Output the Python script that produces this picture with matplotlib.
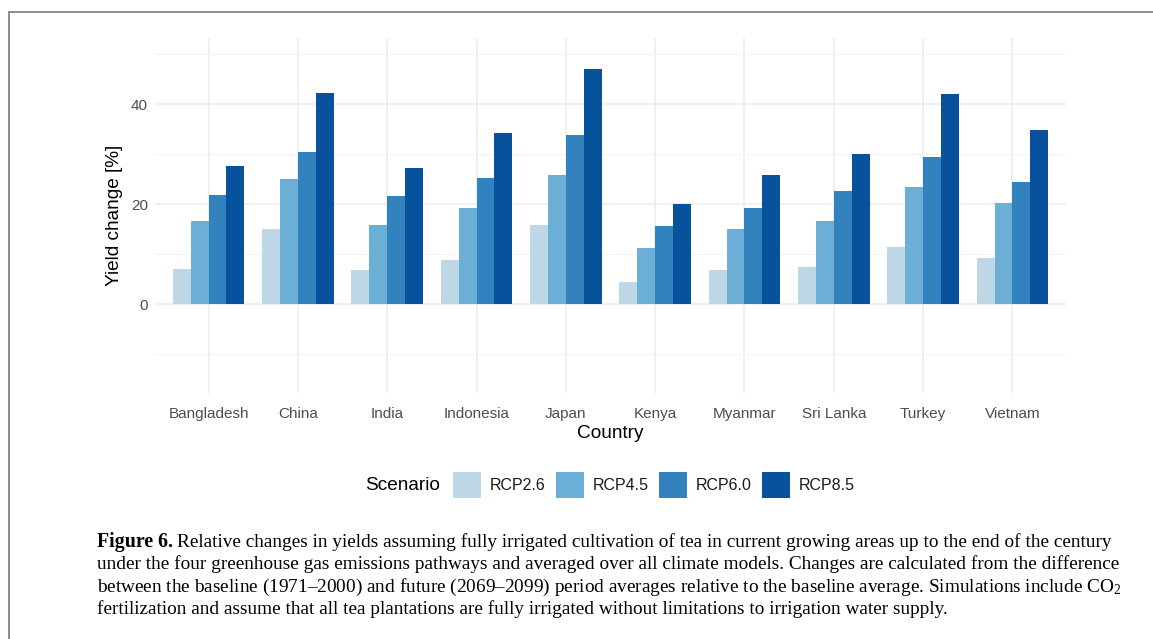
"""
Tea yield change under RCP scenarios (fully irrigated), bar chart with caption.
"""

import numpy as np
import matplotlib.pyplot as plt
from matplotlib.patches import Rectangle
from matplotlib.lines import Line2D


# ---- data ----
countries = ["Bangladesh", "China", "India", "Indonesia", "Japan",
             "Kenya", "Myanmar", "Sri Lanka", "Turkey", "Vietnam"]
scenarios = ["RCP2.6", "RCP4.5", "RCP6.0", "RCP8.5"]

rcp26 = [7.1, 15.0, 6.8, 8.8, 15.9, 4.5, 6.9, 7.4, 11.5, 9.3]
rcp45 = [16.7, 25.1, 15.9, 19.3, 25.9, 11.3, 15.0, 16.7, 23.5, 20.3]
rcp60 = [21.9, 30.5, 21.7, 25.3, 33.9, 15.6, 19.3, 22.7, 29.5, 24.5]
rcp85 = [27.6, 42.2, 27.3, 34.2, 47.1, 20.1, 25.8, 30.1, 42.0, 34.9]

colors = ["#BDD7E7", "#6BAED6", "#3182BD", "#08519C"]

caption_lines = [
    "Relative changes in yields assuming fully irrigated cultivation of tea in current growing areas up to the end of the century",
    "under the four greenhouse gas emissions pathways and averaged over all climate models. Changes are calculated from the difference",
    "between the baseline (1971\u20132000) and future (2069\u20132099) period averages relative to the baseline average. Simulations include CO$_2$",
    "fertilization and assume that all tea plantations are fully irrigated without limitations to irrigation water supply.",
]

W, H = 1153, 639


def fx(px):
    return px / W


def fy(py):
    return 1 - py / H


plt.rcParams["font.family"] = ["Liberation Sans", "DejaVu Sans"]
plt.rcParams["mathtext.fontset"] = "custom"
plt.rcParams["mathtext.rm"] = "Liberation Serif"
plt.rcParams["mathtext.it"] = "Liberation Serif:italic"
plt.rcParams["mathtext.default"] = "rm"

fig = plt.figure(figsize=(W / 100, H / 100), dpi=100)
ax = fig.add_axes([fx(155), fy(393), fx(1066) - fx(155), fy(38) - fy(393)])

x = np.arange(len(countries))
bw = 0.2
series = [rcp26, rcp45, rcp60, rcp85]
for i, vals in enumerate(series):
    ax.bar(x + (i - 1.5) * bw, vals, width=bw, color=colors[i],
           linewidth=0, zorder=3)

ax.set_xlim(-0.6, len(countries) - 0.4)
ax.set_ylim(-17.8, 53.2)
ax.set_yticks([0, 20, 40])
ax.set_yticks([-10, 10, 30, 50], minor=True)
ax.set_xticks(x)
ax.set_xticklabels(countries)

ax.grid(which="major", color="#EBEBEB", linewidth=1.1, zorder=0)
ax.grid(which="minor", axis="y", color="#F3F3F3", linewidth=0.8, zorder=0)
for s in ax.spines.values():
    s.set_visible(False)
ax.tick_params(which="both", length=0)
ax.tick_params(axis="both", labelsize=11, labelcolor="#4D4D4D")
ax.tick_params(axis="x", pad=10)
ax.tick_params(axis="y", pad=5)

ax.set_xlabel("Country", fontsize=13.7, labelpad=3)
ax.set_ylabel("Yield change [%]", fontsize=13.7, labelpad=6)

# legend, drawn by hand to match the ggplot bottom legend
fig.text(fx(365), fy(486), "Scenario", fontsize=13.7, va="center", ha="left")
key_x = [453, 556, 659, 762]
for i, name in enumerate(scenarios):
    fig.add_artist(Rectangle((fx(key_x[i]), fy(498)), fx(28), 26 / H,
                             transform=fig.transFigure, color=colors[i], lw=0))
    fig.text(fx(key_x[i] + 37), fy(486), name, fontsize=11.5,
             va="center", ha="left", color="#1A1A1A")

# caption
cap_y = [542, 564.5, 587, 609.5]
cap_size = 13.9
cap_font = ["Liberation Serif", "DejaVu Serif"]
for i, line in enumerate(caption_lines):
    if i == 0:
        t = fig.text(fx(97), fy(cap_y[i]), "Figure 6.", fontsize=cap_size + 0.4,
                     family=cap_font, weight="bold", va="center", ha="left")
        fig.canvas.draw()
        bb = t.get_window_extent()
        fig.text((bb.x1 + 4) / W, fy(cap_y[i]), line, fontsize=cap_size,
                 family=cap_font, va="center", ha="left")
    else:
        fig.text(fx(97), fy(cap_y[i]), line, fontsize=cap_size,
                 family=cap_font, va="center", ha="left")

# frame around the figure (top and left edges visible)
fig.add_artist(Line2D([fx(9), 1], [fy(12), fy(12)], transform=fig.transFigure,
                      color="#8C8C8C", lw=1.4))
fig.add_artist(Line2D([fx(9), fx(9)], [fy(12), 0], transform=fig.transFigure,
                      color="#8C8C8C", lw=1.4))

fig.savefig("out.png", dpi=100)
